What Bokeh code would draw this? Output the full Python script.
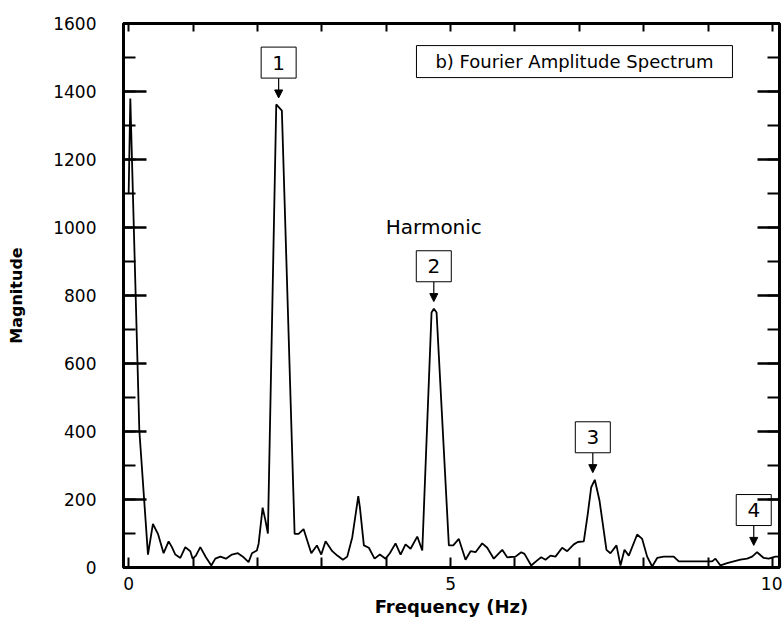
from bokeh.plotting import figure
from bokeh.models import (Range1d, LinearAxis, SingleIntervalTicker, FixedTicker,
                          Arrow, NormalHead, ColumnDataSource, CustomJSTickFormatter)
from bokeh.core.properties import value
from bokeh.embed import file_html
from bokeh.resources import INLINE

# ---- data ----
freq = [0.0, 0.026, 0.166, 0.300, 0.377, 0.455, 0.543, 0.621, 0.672, 0.725,
        0.803, 0.880, 0.958, 0.994, 1.045, 1.113, 1.200, 1.284, 1.346, 1.424,
        1.511, 1.604, 1.697, 1.786, 1.863, 1.915, 1.992, 2.019, 2.081, 2.123,
        2.163, 2.293, 2.380, 2.578, 2.640, 2.717, 2.837, 2.924, 2.992, 3.059,
        3.163, 3.241, 3.328, 3.396, 3.474, 3.567, 3.592, 3.654, 3.731, 3.820,
        3.902, 3.991, 4.057, 4.146, 4.224, 4.301, 4.379, 4.483, 4.561, 4.705,
        4.741, 4.783, 4.974, 5.042, 5.129, 5.233, 5.311, 5.388, 5.492, 5.570,
        5.672, 5.803, 5.880, 6.009, 6.098, 6.149, 6.253, 6.346, 6.408, 6.475,
        6.553, 6.630, 6.734, 6.812, 6.915, 6.977, 7.070, 7.132, 7.185, 7.241,
        7.314, 7.422, 7.484, 7.578, 7.640, 7.702, 7.769, 7.899, 7.977, 8.054,
        8.132, 8.210, 8.312, 8.467, 8.545, 8.727, 8.882, 9.064, 9.115, 9.193,
        9.297, 9.399, 9.503, 9.607, 9.685, 9.762, 9.865, 9.942, 10.047, 10.11]

magnitude = [1100, 1379, 403, 38, 128, 99, 42, 77, 60, 38,
             28, 60, 48, 26, 35, 60, 30, 6, 26, 32,
             26, 38, 42, 30, 16, 42, 50, 70, 176, 140,
             100, 1362, 1344, 99, 99, 113, 42, 65, 38, 77,
             48, 35, 23, 32, 89, 210, 177, 65, 58, 26,
             38, 26, 42, 71, 38, 68, 55, 91, 50, 750,
             761, 750, 65, 65, 84, 23, 48, 45, 71, 58,
             26, 52, 30, 32, 45, 40, 6, 21, 30, 23,
             35, 32, 58, 48, 68, 75, 77, 158, 236, 258,
             197, 52, 42, 65, 6, 52, 35, 97, 84, 32,
             3, 28, 32, 32, 18, 18, 18, 18, 26, 6,
             13, 18, 23, 26, 32, 45, 28, 26, 32, 32]

harmonic_labels = ["1", "2", "3", "4"]
harmonic_freq = [2.33, 4.74, 7.21, 9.71]
harmonic_peak = [1379, 780, 277, 63]

x_major_ticks = [0, 5, 10]
x_minor_ticks = [1, 2, 3, 4, 6, 7, 8, 9]
y_tick_step = 200

title_text = "b) Fourier Amplitude Spectrum"
group_text = "Harmonic"

FONT = "DejaVu Sans"

# ---- figure ----
p = figure(width=782, height=622,
           x_range=Range1d(-0.08, 10.11), y_range=Range1d(0, 1600),
           output_backend="svg", toolbar_location=None,
           min_border_left=123, min_border_right=3,
           min_border_top=23, min_border_bottom=55,
           background_fill_color="white", border_fill_color="white")
p.grid.visible = False
p.outline_line_color = "black"
p.outline_line_width = 3

# bottom axis
xa = p.xaxis[0]
xa.ticker = FixedTicker(ticks=x_major_ticks, minor_ticks=x_minor_ticks)
xa.axis_line_color = None
xa.major_tick_in = 10
xa.major_tick_out = 0
xa.minor_tick_in = 10
xa.minor_tick_out = 0
xa.major_tick_line_width = 2
xa.minor_tick_line_width = 2
xa.major_label_text_font = FONT
xa.major_label_text_font_size = "17px"
xa.major_label_text_color = "black"
xa.major_label_standoff = 9
xa.axis_label = "Frequency (Hz)"
xa.axis_label_text_font = FONT
xa.axis_label_text_font_style = "bold"
xa.axis_label_text_font_size = "18px"
xa.axis_label_text_color = "black"
xa.axis_label_standoff = 3

# left axis
ya = p.yaxis[0]
ya.ticker = SingleIntervalTicker(interval=y_tick_step, num_minor_ticks=2)
ya.axis_line_color = None
ya.major_tick_in = 23
ya.major_tick_out = 0
ya.minor_tick_in = 12
ya.minor_tick_out = 0
ya.major_tick_line_width = 2.5
ya.minor_tick_line_width = 2
ya.major_label_text_font = FONT
ya.major_label_text_font_size = "17px"
ya.major_label_text_color = "black"
ya.major_label_standoff = 27
ya.axis_label = "Magnitude"
ya.axis_label_text_font = FONT
ya.axis_label_text_font_style = "bold"
ya.axis_label_text_font_size = "16px"
ya.axis_label_text_color = "black"
ya.axis_label_standoff = 24

blank = CustomJSTickFormatter(code="return '';")

# right axis (ticks only)
ra = LinearAxis(ticker=SingleIntervalTicker(interval=y_tick_step, num_minor_ticks=2),
                formatter=blank)
ra.axis_line_color = None
ra.major_tick_in = 22
ra.major_tick_out = 0
ra.minor_tick_in = 12
ra.minor_tick_out = 0
ra.major_tick_line_width = 2.5
ra.minor_tick_line_width = 2
ra.major_label_standoff = 0
p.add_layout(ra, "right")

# top axis (ticks only)
ta = LinearAxis(ticker=SingleIntervalTicker(interval=1, num_minor_ticks=0),
                formatter=blank)
ta.axis_line_color = None
ta.major_tick_in = 8
ta.major_tick_out = 0
ta.minor_tick_line_color = None
ta.major_tick_line_width = 2
ta.major_label_standoff = 0
p.add_layout(ta, "above")

# spectrum
p.line(freq, magnitude, line_color="black", line_width=1.8)

# harmonic markers: arrow + boxed number
arrow_len = 60
box_offset = 46
src = ColumnDataSource(dict(
    x=harmonic_freq,
    tip=[v + 2 for v in harmonic_peak],
    tail=[v + arrow_len for v in harmonic_peak],
    box=[v + arrow_len + box_offset for v in harmonic_peak],
    label=harmonic_labels,
))
p.add_layout(Arrow(end=NormalHead(size=8, fill_color="black", line_color="black"),
                   x_start="x", y_start="tail", x_end="x", y_end="tip",
                   line_color="black", line_width=1.2, source=src))
p.rect(x="x", y="box", width=35, height=31, width_units="screen", height_units="screen",
       fill_color="white", line_color="black", line_width=1, source=src)
p.text(x="x", y="box", text="label", text_font=value(FONT), text_font_size="20px",
       text_align="center", text_baseline="middle", text_color="black", source=src)

# title box and group label
p.rect(x=[6.925], y=[1488], width=316, height=32, width_units="screen", height_units="screen",
       fill_color="white", line_color="black", line_width=1)
p.text(x=[6.925], y=[1488], text=[title_text], text_font=value(FONT), text_font_size="18px",
       text_align="center", text_baseline="middle", text_color="black")
p.text(x=[4.74], y=[1001], text=[group_text], text_font=value(FONT), text_font_size="20px",
       text_align="center", text_baseline="middle", text_color="black")

open("out.html", "w").write(file_html(p, INLINE))
